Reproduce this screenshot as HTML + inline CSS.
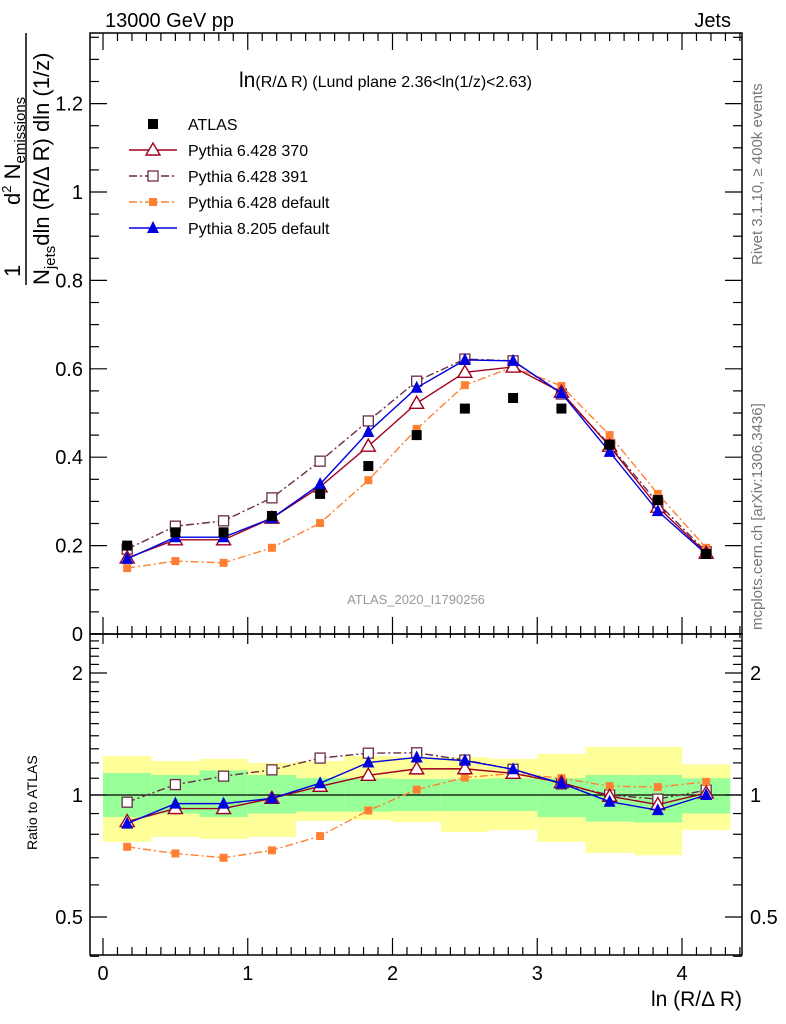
<!DOCTYPE html>
<html><head><meta charset="utf-8"><style>
body{margin:0;background:#fff;}
svg{display:block;font-family:"Liberation Sans",sans-serif;}
</style></head><body>
<svg id="c" width="786" height="1024" xmlns="http://www.w3.org/2000/svg"></svg>
<script>
const xCenters=[0.167,0.5,0.833,1.167,1.5,1.833,2.167,2.5,2.833,3.167,3.5,3.833,4.167];
const atlas=[0.200,0.230,0.230,0.267,0.317,0.380,0.450,0.510,0.534,0.510,0.428,0.303,0.181];
const py370=[0.172,0.213,0.213,0.262,0.333,0.425,0.522,0.592,0.604,0.547,0.425,0.287,0.183];
const py391=[0.192,0.244,0.256,0.308,0.391,0.482,0.572,0.622,0.618,0.543,0.428,0.296,0.186];
const py6def=[0.149,0.165,0.161,0.195,0.251,0.348,0.464,0.563,0.604,0.561,0.450,0.317,0.195];
const py8=[0.170,0.219,0.219,0.262,0.339,0.457,0.557,0.620,0.618,0.545,0.412,0.278,0.181];
const yelUp=[1.248,1.213,1.228,1.199,1.213,1.248,1.24,1.24,1.228,1.262,1.314,1.314,1.19];
const yelDn=[0.766,0.788,0.779,0.788,0.863,0.868,0.858,0.81,0.82,0.766,0.72,0.71,0.82];
const grnUp=[1.133,1.12,1.15,1.12,1.1,1.1,1.095,1.095,1.1,1.1,1.12,1.12,1.1];
const grnDn=[0.882,0.9,0.882,0.9,0.91,0.91,0.913,0.913,0.913,0.882,0.86,0.855,0.9];
const mainTicks=[0,0.2,0.4,0.6,0.8,1,1.2];
const mainTickLabels=["0","0.2","0.4","0.6","0.8","1","1.2"];
const xTicks=[0,1,2,3,4];
const ratioTicks=[0.5,1,2];

const NS="http://www.w3.org/2000/svg";
const svg=document.getElementById('c');
const L=90,R=742,T=33,MB=634,RB=955;
const X=v=>103+v*144.75;
const Y=v=>634-v*442;
const YR=v=>795-Math.log2(v)*122;
function el(tag,attrs,parent){const e=document.createElementNS(NS,tag);for(const k in attrs)e.setAttribute(k,attrs[k]);(parent||svg).appendChild(e);return e;}
function txt(s,attrs,parent){const e=el('text',attrs,parent);e.textContent=s;return e;}

const bands=el('g',{});


xCenters.forEach((c,i)=>{
  const x0=X(i/3),x1=X((i+1)/3);
  const y=el('rect',{x:x0,y:YR(yelUp[i]),width:x1-x0,height:YR(yelDn[i])-YR(yelUp[i]),fill:'#ffff99'},bands);
  
  
  const g=el('rect',{x:x0,y:YR(grnUp[i]),width:x1-x0,height:YR(grnDn[i])-YR(grnUp[i]),fill:'#99ff99'},bands);
  
  
});
el('line',{x1:L,x2:R,y1:YR(1),y2:YR(1),stroke:'#000','stroke-width':1.3});

el('rect',{x:L,y:T,width:R-L,height:MB-T,fill:'none',stroke:'#000','stroke-width':1.5});
el('rect',{x:L,y:MB,width:R-L,height:RB-MB,fill:'none',stroke:'#000','stroke-width':1.5});

for(let v=0;v<=1.36;v+=0.05){
  const maj=Math.abs(v/0.2-Math.round(v/0.2))<1e-6;const len=maj?17:9;
  el('line',{x1:L,x2:L+len,y1:Y(v),y2:Y(v),stroke:'#000','stroke-width':1.2});
  el('line',{x1:R,x2:R-len,y1:Y(v),y2:Y(v),stroke:'#000','stroke-width':1.2});
}
mainTicks.forEach((v,i)=>{const t=txt(mainTickLabels[i],{x:83,y:Y(v)+7,'font-size':20,'text-anchor':'end'});
});
for(let k=0;k<=44;k++){const v=k/10;const maj=k%10==0;const len=maj?17:8;
  [T,MB].forEach(yy=>{const d=yy==T?1:-1;el('line',{x1:X(v),x2:X(v),y1:yy,y2:yy+d*len,stroke:'#000','stroke-width':1.2});});
  el('line',{x1:X(v),x2:X(v),y1:MB,y2:MB+(maj?10:4),stroke:'#000','stroke-width':1.2});
  el('line',{x1:X(v),x2:X(v),y1:RB,y2:RB-len,stroke:'#000','stroke-width':1.2});
}
xTicks.forEach(v=>{const t=txt(String(v),{x:X(v),y:980,'font-size':20,'text-anchor':'middle'});
});
for(let v=0.4;v<=2.5001;v+=0.1){const maj=ratioTicks.some(r=>Math.abs(r-v)<1e-6);const len=maj?17:9;
  el('line',{x1:L,x2:L+len,y1:YR(v),y2:YR(v),stroke:'#000','stroke-width':1.2});
  el('line',{x1:R,x2:R-len,y1:YR(v),y2:YR(v),stroke:'#000','stroke-width':1.2});
}
ratioTicks.forEach(v=>{
  const a=txt(String(v),{x:83,y:YR(v)+7,'font-size':20,'text-anchor':'end'});
  
  const b=txt(String(v),{x:750,y:YR(v)+7,'font-size':20});
  
});

function marker(type,x,y,col,g){
  if(type=='fsq') el('rect',{x:x-5,y:y-5,width:10,height:10,fill:col},g);
  if(type=='osq') el('rect',{x:x-5,y:y-5,width:10,height:10,fill:'#fff',stroke:col,'stroke-width':1.3},g);
  if(type=='fsqs') el('rect',{x:x-4,y:y-4,width:8,height:8,fill:col},g);
  if(type=='otri') el('polygon',{points:`${x},${y-7} ${x-7},${y+5} ${x+7},${y+5}`,fill:'#fff',stroke:col,'stroke-width':1.4},g);
  if(type=='ftri') el('polygon',{points:`${x},${y-7} ${x-6},${y+5} ${x+6},${y+5}`,fill:col},g);
}
const series=[
 {d:py391,col:'#6b2c4a',dash:'8,3,2,3',m:'osq',n:'pythia-6428-391'},
 {d:py6def,col:'#ff8033',dash:'8,3,2,3',m:'fsqs',n:'pythia-6428-default'},
 {d:py370,col:'#a00020',dash:'',m:'otri',n:'pythia-6428-370'},
 {d:py8,col:'#0000e0',dash:'',m:'ftri',n:'pythia-8205-default'}];
series.forEach(s=>{
  ['main','ratio'].forEach(p=>{
    const g=el('g',{});
    
    
    const fy=p=='main'?(i=>Y(s.d[i])):(i=>YR(s.d[i]/atlas[i]));
    const pts=xCenters.map((c,i)=>X(c)+','+fy(i)).join(' ');
    el('polyline',{points:pts,fill:'none',stroke:s.col,'stroke-width':1.4,'stroke-dasharray':s.dash},g);
    xCenters.forEach((c,i)=>marker(s.m,X(c),fy(i),s.col,g));
  });
});
const ag=el('g',{});


xCenters.forEach((c,i)=>marker('fsq',X(c),Y(atlas[i]),'#000',ag));

const lg=el('g',{});


const leg=[['ATLAS','fsq','#000',null],['Pythia 6.428 370','otri','#a00020',''],['Pythia 6.428 391','osq','#6b2c4a','8,3,2,3'],['Pythia 6.428 default','fsqs','#ff8033','8,3,2,3'],['Pythia 8.205 default','ftri','#0000e0','']];
leg.forEach((l,i)=>{const y=124+i*26;
  if(l[3]!==null) el('line',{x1:129,x2:177,y1:y,y2:y,stroke:l[2],'stroke-width':1.4,'stroke-dasharray':l[3]},lg);
  marker(l[1],153,y,l[2],lg);
  const t=txt(l[0],{x:188,y:y+6,'font-size':16},lg);
  
});

const tt=[
 ['13000 GeV pp',{x:105,y:27,'font-size':20},'energy-label'],
 ['Jets',{x:731,y:27,'font-size':20,'text-anchor':'end'},'process-label'],
 ['ATLAS_2020_I1790256',{x:416,y:604,'font-size':13,fill:'#999','text-anchor':'middle'},'analysis-id'],
 ['ln (R/Δ R)',{x:742,y:1006,'font-size':21,'text-anchor':'end'},'x-axis-title'],
 ['Ratio to ATLAS',{x:0,y:0,'font-size':14,transform:'translate(37,850) rotate(-90)'},'ratio-axis-title'],
 ['Rivet 3.1.10, ≥ 400k events',{x:0,y:0,'font-size':15,fill:'#777',transform:'translate(762,265) rotate(-90)'},'rivet-label'],
 ['mcplots.cern.ch [arXiv:1306.3436]',{x:0,y:0,'font-size':15,fill:'#777',transform:'translate(762,630) rotate(-90)'},'mcplots-label']];
tt.forEach(a=>{const t=txt(a[0],a[1]);});
const title=el('text',{x:239,y:87,'font-size':16});
title.innerHTML='<tspan font-size="21">ln</tspan>(R/Δ R) (Lund plane 2.36&lt;ln(1/z)&lt;2.63)';


const yt=el('g',{transform:'rotate(-90)'});


el('line',{x1:-285,x2:-33,y1:26,y2:26,stroke:'#000','stroke-width':1.5},yt);
txt('1',{x:-277,y:20,'font-size':22},yt);
const t2=el('text',{x:-205,y:20,'font-size':22},yt);
t2.innerHTML='d<tspan font-size="13" dy="-9">2</tspan><tspan dy="9"> N</tspan><tspan font-size="15" dy="5">emissions</tspan>';
const t3=el('text',{x:-285,y:49,'font-size':22},yt);
t3.innerHTML='N<tspan font-size="15" dy="6">jets</tspan><tspan dy="-6">dln (R/Δ R) dln (1/z)</tspan>';
</script>
</body></html>
